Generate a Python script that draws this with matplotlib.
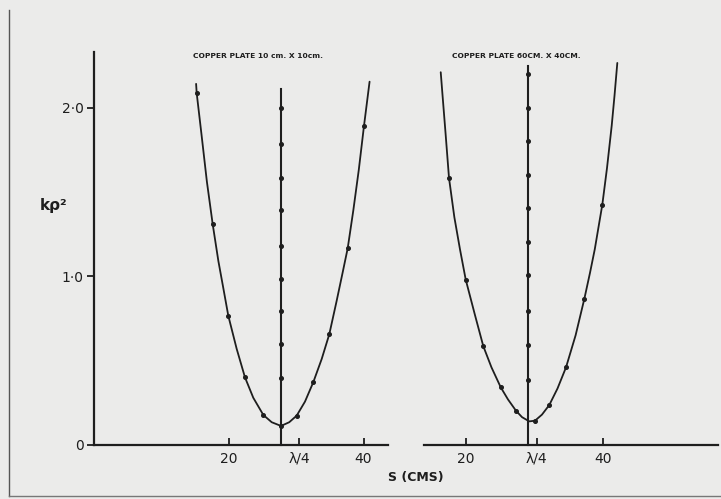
import matplotlib
matplotlib.use("Agg")
import matplotlib.pyplot as plt
from matplotlib.lines import Line2D

# ---------------- data ----------------
# Left panel: copper plate 10 cm x 10 cm
left_curve_s = [15.20, 15.29, 16.00, 16.80, 17.66, 18.50, 19.23, 19.97, 21.21, 22.44,
                23.67, 25.16, 26.40, 27.78, 29.00, 30.10, 31.33, 32.56, 33.81, 34.93,
                36.00, 36.90, 37.66, 38.49, 39.30, 40.07, 40.90]
left_curve_k = [2.140, 2.084, 1.840, 1.560, 1.308, 1.090, 0.930, 0.766, 0.570, 0.401,
                0.280, 0.178, 0.135, 0.113, 0.135, 0.174, 0.257, 0.372, 0.510, 0.656,
                0.850, 1.020, 1.166, 1.390, 1.630, 1.890, 2.153]
left_pts_s = [15.29, 17.66, 19.97, 22.44, 25.16, 27.78, 30.10, 32.56, 34.93, 37.66, 40.07]
left_pts_k = [2.084, 1.308, 0.766, 0.401, 0.178, 0.113, 0.174, 0.372, 0.656, 1.166, 1.890]
left_vline_s = 27.8
left_vline_top = 2.108
left_vline_pts = [1.999, 1.782, 1.580, 1.393, 1.181, 0.984, 0.796, 0.597, 0.395]
left_quarter = 30.44

# Right panel: copper plate 60 cm x 40 cm
right_curve_s = [16.31, 16.54, 17.01, 17.52, 18.30, 19.12, 19.96, 21.31, 22.53, 23.72,
                 25.07, 26.13, 27.30, 28.18, 29.24, 30.07, 31.09, 32.16, 33.36, 34.60,
                 36.00, 37.27, 38.10, 38.80, 39.34, 39.90, 40.58, 41.27, 41.68, 42.09]
right_curve_k = [2.209, 2.090, 1.850, 1.582, 1.350, 1.160, 0.980, 0.770, 0.585, 0.460,
                 0.342, 0.270, 0.203, 0.165, 0.140, 0.144, 0.180, 0.237, 0.335, 0.460,
                 0.650, 0.865, 1.020, 1.160, 1.290, 1.424, 1.640, 1.892, 2.070, 2.264]
right_pts_s = [17.52, 19.96, 22.53, 25.07, 27.30, 30.07, 32.16, 34.60, 37.27, 39.90]
right_pts_k = [1.582, 0.980, 0.585, 0.342, 0.203, 0.144, 0.237, 0.460, 0.865, 1.424]
right_vline_s = 29.0
right_vline_top = 2.248
right_vline_pts = [2.199, 1.995, 1.799, 1.598, 1.403, 1.201, 1.007, 0.794, 0.594, 0.387]
right_quarter = 30.32

y_ticks = [0, 1, 2]
y_tick_labels = ["0", "1·0", "2·0"]
x_tick_labels = ["20", "λ/4", "40"]
titles = ["COPPER PLATE 10 cm. X 10cm.", "COPPER PLATE 60CM. X 40CM."]
y_label = "kρ²"
x_label = "S (CMS)"

# ---------------- figure ----------------
W, H = 721, 499
paper = "#ebebea"
ink = "#1e1e1e"
fig = plt.figure(figsize=(W / 100, H / 100), dpi=100, facecolor=paper)

def fx(px):
    return px / W

def fy(py):
    return 1 - py / H

bottom_px, top_px = 445, 52
ymax = (bottom_px - top_px) / 168.75

axL = fig.add_axes([fx(93.5), fy(bottom_px), fx(388 - 93.5), (bottom_px - top_px) / H])
axL.set_xlim(0, (388 - 93.5) / 6.75)
axR = fig.add_axes([fx(424), fy(bottom_px), fx(718 - 424), (bottom_px - top_px) / H])
axR.set_xlim((424 - 329) / 6.85, (718 - 329) / 6.85)

for ax in (axL, axR):
    ax.set_facecolor("none")
    ax.set_ylim(0, ymax)
    for sp in ("top", "right"):
        ax.spines[sp].set_visible(False)
    ax.spines["bottom"].set_linewidth(1.6)
    ax.spines["bottom"].set_color(ink)
    ax.spines["left"].set_linewidth(1.6)
    ax.spines["left"].set_color(ink)

axR.spines["left"].set_visible(False)

def draw_panel(ax, cs, ck, ps, pk, vs, vtop, vpts, quarter, title, title_x):
    ax.plot(cs, ck, color=ink, lw=1.3, clip_on=False, solid_capstyle="round",
            solid_joinstyle="round")
    ax.plot(ps, pk, "o", color=ink, ms=2.6, clip_on=False)
    ax.plot([vs, vs], [0, vtop], color=ink, lw=1.5, clip_on=False)
    ax.plot([vs] * len(vpts), vpts, "o", color=ink, ms=2.6, clip_on=False)
    ax.set_xticks([20, quarter, 40])
    ax.set_xticklabels(x_tick_labels)
    ax.tick_params(axis="x", direction="in", length=5, width=1.3, color=ink,
                   labelsize=10, pad=5, labelcolor=ink)
    fig.text(fx(title_x), fy(56), title, fontsize=5.4, fontweight="bold",
             color=ink, ha="left", va="center")

draw_panel(axL, left_curve_s, left_curve_k, left_pts_s, left_pts_k,
           left_vline_s, left_vline_top, left_vline_pts, left_quarter, titles[0], 193)
draw_panel(axR, right_curve_s, right_curve_k, right_pts_s, right_pts_k,
           right_vline_s, right_vline_top, right_vline_pts, right_quarter, titles[1], 452)

axL.set_yticks(y_ticks)
axL.set_yticklabels(y_tick_labels)
axL.tick_params(axis="y", direction="out", length=5, width=1.3, color=ink,
                labelsize=10, pad=2, labelcolor=ink)
axR.set_yticks([])

fig.text(fx(54), fy(205), y_label, fontsize=11, fontweight="bold", color=ink,
         ha="center", va="center")
fig.text(fx(416), fy(478), x_label, fontsize=9, fontweight="bold", color=ink,
         ha="center", va="center")

# page edges of the scan
fig.add_artist(Line2D([fx(9), fx(9)], [fy(10), fy(496)], color="#555555", lw=1.0))
fig.add_artist(Line2D([fx(9), fx(721)], [fy(496), fy(496)], color="#777777", lw=1.0))

fig.savefig("out.png", dpi=100, facecolor=paper)
